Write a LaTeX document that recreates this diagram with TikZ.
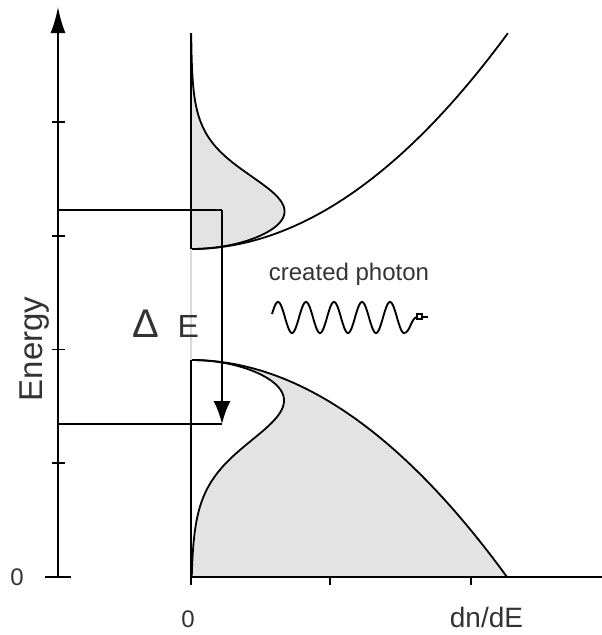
\documentclass[tikz,border=0pt]{standalone}
\usepackage{fontspec}
\setmainfont{Liberation Sans}
\usetikzlibrary{arrows.meta}
\definecolor{Ink}{HTML}{333333}
\definecolor{BandFill}{HTML}{E3E3E3}
\definecolor{GapLine}{HTML}{DADADA}

\begin{document}
\begin{tikzpicture}[
    x=1pt,y=-1pt,line width=1.8pt,
    axisline/.style={line width=1.9pt},
    bandline/.style={line width=1.8pt,line join=round},
    wave/.style={line width=1.9pt,line join=round},
    txt/.style={text=Ink,inner sep=0pt}
  ]
    \useasboundingbox (0,0) rectangle (602,635);
    % occupied states
    \fill[BandFill] (191,249) -- plot[domain=0:1,samples=160] ({191+317*\x/(1+exp((216*\x*\x-57)/22))},{249-216*\x*\x}) -- cycle;
    \fill[BandFill] plot[domain=0:1,samples=160] ({191+317*\x/(1+exp((217*\x*\x-60)/26))},{360+217*\x*\x})
      -- plot[domain=1:0,samples=160] ({191+316*\x},{360+217*\x*\x}) -- cycle;
    % band edges and distributions
    \draw[bandline] plot[domain=0:1,samples=160] ({191+317*\x},{249-216*\x*\x});
    \draw[bandline] plot[domain=0:1,samples=160] ({191+317*\x/(1+exp((216*\x*\x-57)/22))},{249-216*\x*\x});
    \draw[bandline] plot[domain=0:1,samples=160] ({191+316*\x},{360+217*\x*\x});
    \draw[bandline] plot[domain=0:1,samples=160] ({191+317*\x/(1+exp((217*\x*\x-60)/26))},{360+217*\x*\x});
    % axes
    \coordinate (eorig) at (58,577);
    \coordinate (etop) at (58,7);
    \coordinate (dtop) at (191,33);
    \coordinate (cbedge) at (191,249);
    \coordinate (vbedge) at (191,360);
    \coordinate (dorig) at (191,585);
    \coordinate (dend) at (602,577);
    \draw[axisline,-{Latex[length=26pt,width=15pt]}] (eorig) -- (etop);
    \foreach \y in {122,235.75,349.5,463.25}
      \draw[axisline] (52,\y) -- (65,\y);
    \draw[axisline] (45,577) -- (71,577);
    \draw[axisline] (dtop) -- (cbedge);
    \draw[axisline,GapLine] (cbedge) -- (vbedge);
    \draw[axisline] (vbedge) -- (dorig);
    \draw[axisline] (191,577) -- (dend);
    \foreach \x in {330,471}
      \draw[axisline] (\x,577) -- (\x,585);
    % transition
    \coordinate (hi) at (58,210);
    \coordinate (hicorner) at (222,210);
    \coordinate (lo) at (58,424);
    \coordinate (locorner) at (222,424);
    \draw[axisline] (hi) -- (hicorner);
    \draw[axisline,-{Latex[length=23pt,width=17pt]}] (hicorner) -- (locorner);
    \draw[axisline] (lo) -- (locorner);
    % photon
    \draw[wave] plot[domain=272:404,samples=200] (\x,{317.5-15.5*sin((\x-271)/28*360)})
      .. controls (410,333) and (411,318) .. (417,317);
    \draw[line width=1.2pt] (417,314) rectangle (422,319);
    \draw[line width=2pt] (422,316.5) -- (428,316.5);
    % labels
    \node[txt,rotate=90,anchor=base] (energy) at (42,349) {\fontsize{33}{38}\selectfont Energy};
    \node[txt,anchor=base] (ezero) at (17,585) {\fontsize{24}{28}\selectfont 0};
    \node[txt,anchor=base] (dzero) at (188,627) {\fontsize{24}{28}\selectfont 0};
    \node[txt,anchor=base west] (dnde) at (449,627) {\fontsize{28}{32}\selectfont dn/dE};
    \node[txt,anchor=base west] (gap) at (132,337) {{\fontsize{40}{44}\selectfont Δ}\hspace{18pt}{\fontsize{32}{36}\selectfont E}};
    \node[txt,anchor=base west] (photon) at (268,280) {\fontsize{24}{28}\selectfont created photon};
  \end{tikzpicture}
\end{document}
